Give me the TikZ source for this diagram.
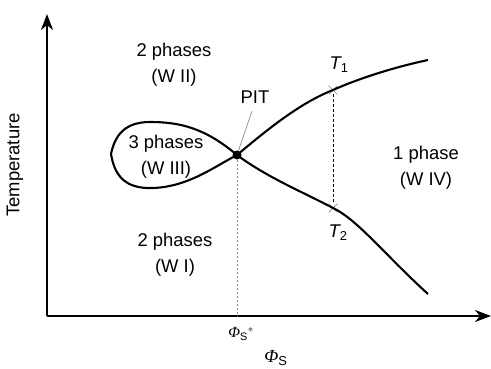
\documentclass[tikz,border=0pt]{standalone}
\usepackage{fontspec}
\setmainfont{Liberation Sans}
\newfontfamily\phifont{Liberation Serif}
\usetikzlibrary{arrows.meta, positioning, shapes.misc}
\definecolor{cgrey}{HTML}{8A8A8A}
\newcommand{\phis}{\mbox{\phifont\itshape Φ}_\mathrm{S}}
\tikzset{
  every picture/.style={x=1bp, y=-1bp, font=\fontsize{18.5}{26}\selectfont},
  axis/.style={line width=2.4bp, -{Stealth[length=16bp, width=12bp, inset=5bp]}},
  curve/.style={line width=2.1bp},
  label/.style={align=center, inner sep=1pt},
  xmark/.style={cross out, draw=cgrey, line width=0.7bp, minimum size=8bp, inner sep=0pt},
  guide/.style={draw=cgrey, line width=0.7bp, dash pattern=on 2bp off 2bp},
}

\begin{document}
\begin{tikzpicture}
  \useasboundingbox (0,0) rectangle (491,368);
  % axes
  \coordinate (o) at (47,316);
  \coordinate (xend) at (491,316);
  \coordinate (yend) at (47,14);
  \draw[axis] (o) -- (xend);
  \draw[axis] (o) -- (yend);
  \node[rotate=90] (ylab) at (15,165) {Temperature};
  \node (xlab) at (276,358) {$\phis$};
  % special points
  \node[circle, fill=black, inner sep=0pt, minimum size=9bp] (pit) at (237,155) {};
  \node[xmark] (t1) at (333,90) {};
  \node[xmark] (t2) at (333,208) {};
  \coordinate (xstar) at (237,316);
  \coordinate (uend) at (428,60);
  \coordinate (lend) at (428,294);
  % loop of the 3 phase region
  \draw[curve] (pit.center) .. controls (205,128) and (180,122) .. (150,122)
    .. controls (125,122) and (115,135) .. (111,154)
    .. controls (114,172) and (122,187) .. (147,188)
    .. controls (185,189) and (212,168) .. (pit.center);
  % phase boundaries
  \draw[curve] (pit.center) .. controls (268,129) and (300,103) .. (t1.center)
    .. controls (360,78) and (395,67) .. (uend);
  \draw[curve] (pit.center) .. controls (268,178) and (305,193) .. (t2.center)
    .. controls (358,220) and (385,255) .. (lend);
  \draw[line width=0.9bp, dash pattern=on 3bp off 2bp] (t1) -- (t2);
  \draw[guide] (pit) -- (xstar);
  % labels
  \node[label] (pitlab) at (255,97) {PIT};
  \draw[draw=cgrey, line width=0.7bp] (252,111) -- (pit);
  \node[label] (t1lab) at (339,65) {$\mathit{T}_\mathrm{1}$};
  \node[label] (t2lab) at (338,233) {$\mathit{T}_\mathrm{2}$};
  \node[label, font=\fontsize{15.5}{18}\selectfont] (starlab) at (241,334) {$\phis{}^{*}$};
  \node[label] (w2) at (174,65) {2 phases\\(W II)};
  \node[label] (w3) at (166,157) {3 phases\\(W III)};
  \node[label] (w1) at (175,255) {2 phases\\(W I)};
  \node[label] (w4) at (426,168) {1 phase\\(W IV)};
\end{tikzpicture}
\end{document}
